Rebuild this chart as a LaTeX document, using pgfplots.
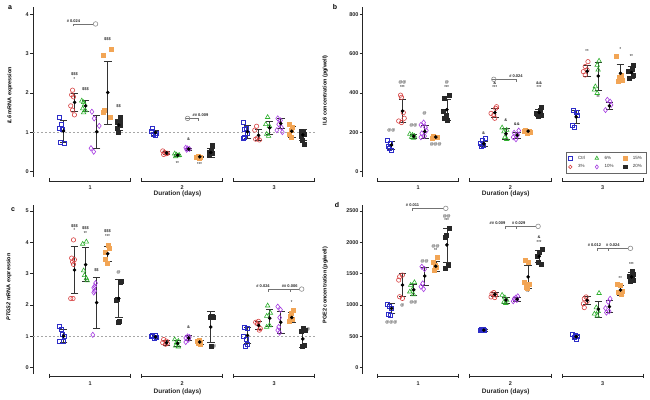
\documentclass[border=0pt]{standalone}
\usepackage{pgfplots}
\pgfplotsset{compat=1.18}
\usepackage{fontspec}
\setmainfont{Liberation Sans}
\definecolor{cCtrl}{RGB}{45,45,200}
\definecolor{cThree}{RGB}{215,65,65}
\definecolor{cSix}{RGB}{45,175,45}
\definecolor{cTen}{RGB}{165,60,225}
\definecolor{cFift}{RGB}{242,165,85}
\definecolor{cTwen}{RGB}{40,40,40}
\pgfplotsset{
  panel/.style={scale only axis, anchor=south west, clip=false, hide x axis,
    axis y line*=left, y axis line style={line width=0.9pt, black!85},
    ytick align=outside, ytick style={line width=0.8pt, black!85}, major tick length=3pt,
    yticklabel style={font=\bfseries\fontsize{5.5}{6}\selectfont, black!85, inner sep=1pt},
    /pgf/number format/assume math mode=true, /pgf/number format/1000 sep={},
    ylabel style={font=\bfseries\fontsize{5.5}{6}\selectfont, anchor=center}},
  sCtrl/.style={only marks, mark=square, mark size=2pt, color=cCtrl, line width=0.6pt},
  sThree/.style={only marks, mark=o, mark size=2.2pt, color=cThree, line width=0.6pt},
  sSix/.style={only marks, mark=triangle, mark size=2.6pt, color=cSix, line width=0.6pt},
  sTen/.style={only marks, mark=diamond, mark size=2.6pt, color=cTen, line width=0.6pt},
  sFift/.style={only marks, mark=square*, mark size=2pt, color=cFift},
  sTwen/.style={only marks, mark=square*, mark size=2pt, color=cTwen},
  meanst/.style={forget plot, only marks, mark=*, mark size=1.6pt, color=black,
    error bars/y dir=both, error bars/y explicit,
    error bars/error bar style={line width=0.6pt, black!80},
    error bars/error mark options={rotate=90, line width=0.6pt, mark size=3.8pt, black!80}},
  circ/.style={forget plot, only marks, mark=o, mark size=2.3pt, color=black!45, line width=0.6pt},
}
\tikzset{
  ann/.style={font=\bfseries\fontsize{4}{4}\selectfont, inner sep=0pt, text=black!85},
  sigl/.style={line width=0.5pt, black!55},
  grp/.style={line width=0.9pt, black!85},
  glab/.style={font=\bfseries\fontsize{5.5}{6}\selectfont, inner sep=0pt, text=black!85},
  dlab/.style={font=\bfseries\fontsize{6.5}{7}\selectfont, inner sep=0pt, text=black!85},
}
\newcommand{\pts}[3]{\addplot[#1] table[row sep=\\, x expr={\thisrow{g}+(#2)+(\thisrow{j})}, y=y]{#3};}
\newcommand{\means}[1]{\addplot[meanst] table[row sep=\\, x expr={\thisrow{g}+(\thisrow{s}-2.5)*0.12+0.012}, y=m, y error=e]{#1};}
\newcommand{\an}[3]{\node[ann] at (axis cs:#1,#2) {#3};}
\newcommand{\groups}[3]{%
  \draw[grp] ([yshift=3pt]axis cs:0.56,#1) -- ([yshift=-1pt]axis cs:0.56,#1) (axis cs:0.56,#1) -- (axis cs:1.44,#1) ([yshift=3pt]axis cs:1.44,#1) -- ([yshift=-1pt]axis cs:1.44,#1);
  \draw[grp] ([yshift=3pt]axis cs:1.56,#1) -- ([yshift=-1pt]axis cs:1.56,#1) (axis cs:1.56,#1) -- (axis cs:2.44,#1) ([yshift=3pt]axis cs:2.44,#1) -- ([yshift=-1pt]axis cs:2.44,#1);
  \draw[grp] ([yshift=3pt]axis cs:2.56,#1) -- ([yshift=-1pt]axis cs:2.56,#1) (axis cs:2.56,#1) -- (axis cs:3.44,#1) ([yshift=3pt]axis cs:3.44,#1) -- ([yshift=-1pt]axis cs:3.44,#1);
  \node[glab] at (axis cs:1,#2) {1};
  \node[glab] at (axis cs:2,#2) {2};
  \node[glab] at (axis cs:3,#2) {3};
  \node[dlab] at (axis cs:1.95,#3) {Duration (days)};}
\newcommand{\sigone}[5]{%
  \addplot[circ] coordinates {(#1,#2)};
  \draw[sigl] ([yshift=-2.5pt]axis cs:#3,#2) -- (axis cs:#3,#2) -- ([xshift=-2.3pt]axis cs:#1,#2);
  \node[ann, anchor=south] at ([yshift=1.2pt]axis cs:#4,#2) {#5};}
\newcommand{\sigtwo}[8]{%
  \sigone{#1}{#2}{#3}{#4}{#5}
  \draw[sigl] ([yshift=-2.5pt]axis cs:#6,#2) -- (axis cs:#6,#2);
  \node[ann, anchor=south] at ([yshift=1.2pt]axis cs:#7,#2) {#8};}
\begin{document}
\begin{tikzpicture}
\useasboundingbox (0pt,0pt) rectangle (650pt,399pt);
\node[font=\bfseries\fontsize{7}{7}\selectfont] at (10pt,391pt) {a};
\node[font=\bfseries\fontsize{7}{7}\selectfont] at (335pt,392pt) {b};
\node[font=\bfseries\fontsize{7}{7}\selectfont] at (13pt,189pt) {c};
\node[font=\bfseries\fontsize{7}{7}\selectfont] at (337pt,194pt) {d};
% ---------------- panel a
\begin{axis}[panel, at={(33pt,221.8pt)}, width=283.4pt, height=170.5pt,
  xmin=0.38, xmax=3.46, ymin=-0.15, ymax=4.2, ytick={0,1,2,3,4},
  ylabel={\textit{IL6} mRNA expression}, ylabel style={at={(rel axis cs:-0.081,0.48)}}]
\addplot[forget plot, gray!70, line width=0.5pt, dash pattern=on 2pt off 2pt] coordinates {(0.38,1) (3.46,1)};
\pts{sCtrl}{-0.30}{g j y\\ 1 -0.03 1.39\\ 1 -0.01 1.20\\ 1 -0.035 1.11\\ 1 0.0 1.08\\ 1 -0.02 0.75\\ 1 0.015 0.71\\ 2 -0.02 1.10\\ 2 -0.03 1.01\\ 2 -0.01 0.95\\ 2 0.01 0.93\\ 2 0.02 0.97\\ 3 -0.03 1.25\\ 3 0.0 1.10\\ 3 -0.02 1.07\\ 3 0.01 0.96\\ 3 -0.02 0.88\\ 3 -0.035 0.85\\}
\pts{sThree}{-0.18}{g j y\\ 1 -0.01 2.07\\ 1 -0.02 1.95\\ 1 0.0 1.90\\ 1 -0.03 1.67\\ 1 -0.01 1.56\\ 1 0.01 1.44\\ 2 -0.03 0.52\\ 2 -0.01 0.48\\ 2 0.01 0.45\\ 2 -0.02 0.43\\ 2 0.02 0.46\\ 3 -0.01 1.15\\ 3 -0.03 1.05\\ 3 0.0 0.85\\ 3 -0.02 0.82\\ 3 0.02 0.80\\}
\pts{sSix}{-0.06}{g j y\\ 1 -0.03 1.80\\ 1 -0.01 1.76\\ 1 0.0 1.70\\ 1 -0.02 1.60\\ 1 0.01 1.55\\ 1 -0.01 1.50\\ 2 -0.02 0.45\\ 2 0.0 0.42\\ 2 0.02 0.40\\ 2 -0.01 0.38\\ 2 0.03 0.41\\ 3 -0.01 1.38\\ 3 -0.03 1.20\\ 3 0.01 1.15\\ 3 -0.02 0.95\\ 3 0.0 0.90\\}
\pts{sTen}{0.06}{g j y\\ 1 -0.04 1.52\\ 1 -0.015 1.35\\ 1 0.04 1.16\\ 1 -0.05 0.59\\ 1 -0.02 0.50\\ 2 -0.02 0.60\\ 2 0.0 0.58\\ 2 0.02 0.57\\ 2 -0.01 0.55\\ 3 -0.02 1.35\\ 3 0.01 1.30\\ 3 -0.01 1.20\\ 3 0.02 1.12\\ 3 -0.03 1.05\\ 3 0.03 1.00\\}
\pts{sFift}{0.18}{g j y\\ 1 0.05 3.11\\ 1 -0.04 2.97\\ 1 -0.03 1.56\\ 1 -0.035 1.50\\ 1 0.04 1.38\\ 2 0.0 0.38\\ 2 -0.02 0.36\\ 2 -0.03 0.35\\ 2 0.01 0.34\\ 2 0.02 0.37\\ 3 -0.02 1.20\\ 3 0.02 1.12\\ 3 0.01 1.05\\ 3 -0.02 0.95\\ 3 0.01 0.88\\}
\pts{sTwen}{0.30}{g j y\\ 1 0.03 1.38\\ 1 0.025 1.30\\ 1 -0.01 1.25\\ 1 0.03 1.18\\ 1 0.0 1.10\\ 1 0.01 0.99\\ 2 0.03 0.66\\ 2 0.02 0.55\\ 2 0.0 0.50\\ 2 0.03 0.45\\ 2 -0.01 0.40\\ 3 -0.01 1.02\\ 3 0.02 1.00\\ 3 0.03 0.95\\ 3 0.0 0.90\\ 3 0.01 0.80\\ 3 0.03 0.70\\}
\means{g s m e\\ 1 0 1.03 0.28\\ 1 1 1.76 0.24\\ 1 2 1.67 0.15\\ 1 3 1.01 0.41\\ 1 4 2.01 0.80\\ 1 5 1.18 0.14\\ 2 0 0.99 0.06\\ 2 1 0.47 0.04\\ 2 2 0.41 0.03\\ 2 3 0.57 0.03\\ 2 4 0.37 0.02\\ 2 5 0.48 0.11\\ 3 0 1.01 0.16\\ 3 1 0.92 0.14\\ 3 2 1.11 0.16\\ 3 3 1.22 0.13\\ 3 4 1.02 0.14\\ 3 5 0.93 0.13\\}
\an{0.83}{2.48}{\$\$\$}\an{0.83}{2.35}{*}\an{0.95}{2.10}{\$\$\$}\an{1.19}{3.37}{\$\$\$}\an{1.31}{1.67}{\$\$}
\an{1.95}{0.20}{**}\an{2.07}{0.82}{\&}\an{2.19}{0.19}{***}
\sigone{1.06}{3.76}{0.82}{0.82}{\# 0.024}
\sigone{2.06}{1.35}{2.18}{2.20}{\#\# 0.009}
\groups{-0.247}{-0.413}{-0.58}
\end{axis}
% ---------------- panel b
\begin{axis}[panel, at={(362.7pt,221.8pt)}, width=282.5pt, height=170.5pt,
  xmin=0.40, xmax=3.46, ymin=-30, ymax=840.8, ytick={0,200,400,600,800},
  ylabel={IL6 concentration (pg/well)}, ylabel style={at={(rel axis cs:-0.133,0.51)}},
  legend columns=3, legend cell align=left,
  legend image post style={scale=0.8},
  legend style={at={(rel axis cs:1.003,0.025)}, anchor=south east, font=\fontsize{4.5}{5}\selectfont,
    draw=black!60, line width=0.4pt, inner xsep=2pt, inner ysep=1.5pt, row sep=0pt, text=black!80,
    /tikz/every odd column/.append style={column sep=4pt},
    /tikz/every even column/.append style={column sep=8pt}}]
\pts{sCtrl}{-0.30}{g j y\\ 1 -0.03 159\\ 1 0.0 143\\ 1 -0.02 129\\ 1 0.01 109\\ 1 -0.01 120\\ 2 0.03 169\\ 2 0.0 157\\ 2 -0.03 143\\ 2 0.01 134\\ 2 -0.01 129\\ 3 -0.02 313\\ 3 0.01 300\\ 3 0.02 288\\ 3 -0.03 237\\ 3 -0.01 225\\}
\addlegendentry{Ctrl}
\pts{sSix}{-0.06}{g j y\\ 1 -0.03 190\\ 1 0.0 185\\ 1 0.02 180\\ 1 -0.01 175\\ 1 0.01 170\\ 2 -0.03 223\\ 2 0.02 211\\ 2 -0.01 203\\ 2 0.0 174\\ 2 0.02 164\\ 3 0.02 564\\ 3 0.0 543\\ 3 0.01 518\\ 3 -0.02 433\\ 3 -0.03 416\\ 3 0.0 399\\}
\addlegendentry{6\%}
\pts{sFift}{0.18}{g j y\\ 1 -0.02 178\\ 1 0.02 176\\ 1 0.0 174\\ 1 0.03 172\\ 1 -0.03 170\\ 2 -0.02 211\\ 2 0.02 203\\ 2 0.0 194\\ 2 0.03 200\\ 2 -0.03 206\\ 3 -0.03 586\\ 3 0.02 492\\ 3 0.0 480\\ 3 0.03 467\\ 3 -0.01 458\\}
\addlegendentry{15\%}
\pts{sThree}{-0.18}{g j y\\ 1 -0.01 389\\ 1 0.0 378\\ 1 0.02 300\\ 1 0.03 271\\ 1 -0.03 257\\ 1 0.0 249\\ 2 0.03 330\\ 2 0.02 322\\ 2 -0.03 296\\ 2 0.0 288\\ 2 0.01 271\\ 3 0.02 560\\ 3 -0.01 535\\ 3 0.01 518\\ 3 -0.03 509\\ 3 -0.01 492\\}
\addlegendentry{3\%}
\pts{sTen}{0.06}{g j y\\ 1 0.0 249\\ 1 -0.03 237\\ 1 0.02 225\\ 1 0.03 208\\ 1 -0.02 194\\ 1 0.01 180\\ 1 -0.03 174\\ 2 0.03 208\\ 2 -0.02 197\\ 2 0.02 186\\ 2 -0.03 174\\ 2 0.0 164\\ 3 -0.01 365\\ 3 0.02 356\\ 3 0.03 339\\ 3 -0.03 313\\}
\addlegendentry{10\%}
\pts{sTwen}{0.30}{g j y\\ 1 0.04 390\\ 1 -0.02 376\\ 1 -0.03 305\\ 1 0.0 288\\ 1 -0.02 271\\ 1 0.02 259\\ 2 0.03 330\\ 2 0.02 313\\ 2 -0.02 296\\ 2 0.0 279\\ 2 0.03 285\\ 3 0.03 540\\ 3 0.02 521\\ 3 -0.02 509\\ 3 0.03 492\\ 3 -0.01 475\\}
\addlegendentry{20\%}
\means{g s m e\\ 1 0 134 21\\ 1 1 308 59\\ 1 2 179 11\\ 1 3 203 33\\ 1 4 175 5\\ 1 5 315 54\\ 2 0 141 11\\ 2 1 300 22\\ 2 2 192 26\\ 2 3 185 15\\ 2 4 205 9\\ 2 5 300 17\\ 3 0 278 34\\ 3 1 511 28\\ 3 2 487 72\\ 3 3 334 17\\ 3 4 501 46\\ 3 5 505 31\\}
\an{0.71}{207}{@@}\an{0.83}{429}{***}\an{0.83}{453}{@@}\an{0.95}{237}{@@}\an{1.07}{296}{@}\an{1.19}{135}{@@@}\an{1.31}{429}{***}\an{1.31}{453}{@}
\an{1.71}{194}{\&}\an{1.83}{428}{***}\an{1.83}{450}{\&}\an{1.95}{262}{\&}\an{2.07}{242}{\&\&}\an{2.31}{428}{***}\an{2.31}{450}{\&\&}
\an{2.83}{612}{**}\an{2.95}{378}{**}\an{3.19}{625}{*}\an{3.31}{586}{**}
\sigone{1.82}{470}{2.06}{2.06}{\# 0.024}
\groups{-49.5}{-82.7}{-116}
\end{axis}
% ---------------- panel c
\begin{axis}[panel, at={(33pt,25pt)}, width=283.4pt, height=169.2pt,
  xmin=0.38, xmax=3.46, ymin=-0.2, ymax=5.2, ytick={0,1,2,3,4,5},
  ylabel={\textit{PTGS2} mRNA expression}, ylabel style={at={(rel axis cs:-0.085,0.514)}}]
\addplot[forget plot, gray!70, line width=0.5pt, dash pattern=on 2pt off 2pt] coordinates {(0.38,1) (3.46,1)};
\pts{sCtrl}{-0.30}{g j y\\ 1 -0.03 1.31\\ 1 -0.01 1.23\\ 1 0.0 1.06\\ 1 0.02 0.99\\ 1 -0.03 0.83\\ 1 0.01 0.85\\ 2 -0.02 1.05\\ 2 0.01 1.02\\ 2 -0.03 1.00\\ 2 0.02 0.97\\ 2 0.0 0.93\\ 3 -0.02 1.30\\ 3 0.01 1.25\\ 3 -0.03 1.00\\ 3 0.0 0.92\\ 3 0.01 0.75\\ 3 -0.01 0.70\\}
\pts{sThree}{-0.18}{g j y\\ 1 0.0 4.08\\ 1 -0.02 3.50\\ 1 0.01 3.45\\ 1 -0.01 3.38\\ 1 0.0 3.30\\ 1 -0.03 2.21\\ 1 -0.005 2.21\\ 2 -0.02 0.90\\ 2 0.01 0.85\\ 2 -0.03 0.80\\ 2 0.02 0.78\\ 2 0.0 0.75\\ 3 0.01 1.48\\ 3 -0.02 1.45\\ 3 0.0 1.40\\ 3 0.03 1.25\\ 3 0.02 1.20\\}
\pts{sSix}{-0.06}{g j y\\ 1 0.02 4.02\\ 1 -0.02 3.95\\ 1 -0.01 3.10\\ 1 0.0 2.95\\ 1 0.02 2.85\\ 1 0.03 2.78\\ 2 -0.02 0.90\\ 2 0.02 0.85\\ 2 0.0 0.80\\ 2 -0.01 0.70\\ 2 0.02 0.67\\ 3 -0.01 1.98\\ 3 0.02 1.75\\ 3 -0.02 1.65\\ 3 0.01 1.35\\ 3 -0.02 1.30\\}
\pts{sTen}{0.06}{g j y\\ 1 0.0 2.70\\ 1 -0.01 2.60\\ 1 -0.02 2.55\\ 1 -0.01 2.45\\ 1 -0.02 2.40\\ 1 -0.03 1.05\\ 2 0.0 1.00\\ 2 0.02 0.98\\ 2 -0.02 0.95\\ 2 0.01 0.90\\ 2 -0.02 0.82\\ 3 -0.02 1.95\\ 3 0.01 1.85\\ 3 0.0 1.60\\ 3 -0.01 1.30\\ 3 -0.02 1.20\\ 3 0.0 1.12\\}
\pts{sFift}{0.18}{g j y\\ 1 0.02 3.92\\ 1 0.03 3.80\\ 1 -0.01 3.70\\ 1 -0.02 3.45\\ 1 0.01 3.35\\ 2 0.01 0.88\\ 2 -0.02 0.85\\ 2 0.02 0.82\\ 2 -0.01 0.80\\ 2 0.0 0.78\\ 2 0.02 0.76\\ 3 0.03 1.85\\ 3 0.01 1.75\\ 3 -0.01 1.65\\ 3 0.02 1.55\\ 3 -0.02 1.50\\}
\pts{sTwen}{0.30}{g j y\\ 1 0.04 2.77\\ 1 0.03 2.72\\ 1 -0.01 2.20\\ 1 -0.02 2.15\\ 1 0.02 1.50\\ 1 0.01 1.45\\ 2 0.02 1.65\\ 2 0.03 1.63\\ 2 0.04 1.62\\ 2 0.01 1.60\\ 2 0.02 0.68\\ 3 0.02 1.25\\ 3 0.04 1.20\\ 3 0.0 1.18\\ 3 0.03 0.72\\ 3 0.01 0.68\\}
\means{g s m e\\ 1 0 1.01 0.21\\ 1 1 3.12 0.76\\ 1 2 3.29 0.54\\ 1 3 2.08 0.81\\ 1 4 3.64 0.24\\ 1 5 2.21 0.61\\ 2 0 0.99 0.06\\ 2 1 0.80 0.07\\ 2 2 0.78 0.10\\ 2 3 0.95 0.07\\ 2 4 0.82 0.06\\ 2 5 1.30 0.50\\ 3 0 1.03 0.25\\ 3 1 1.35 0.12\\ 3 2 1.58 0.27\\ 3 3 1.45 0.35\\ 3 4 1.60 0.16\\ 3 5 0.92 0.28\\}
\an{0.83}{4.53}{\$\$\$}\an{0.83}{4.39}{*}\an{0.95}{4.45}{\$\$\$}\an{0.95}{4.29}{**}\an{1.07}{3.12}{\$\$}\an{1.19}{4.36}{\$\$\$}\an{1.19}{4.21}{***}\an{1.31}{3.03}{@}
\an{2.07}{1.30}{\&}\an{2.35}{0.67}{@}
\an{3.19}{2.08}{*}\an{3.37}{1.21}{@}
\sigtwo{3.30}{2.51}{2.94}{2.88}{\# 0.024}{3.18}{3.17}{\#\# 0.006}
\groups{-0.287}{-0.504}{-0.76}
\end{axis}
% ---------------- panel d
\begin{axis}[panel, at={(362.7pt,25pt)}, width=282.5pt, height=169.2pt,
  xmin=0.40, xmax=3.46, ymin=-100, ymax=2600, ytick={0,500,1000,1500,2000,2500},
  ylabel={PGE2 concentration (pg/well)}, ylabel style={at={(rel axis cs:-0.133,0.526)}}]
\pts{sCtrl}{-0.30}{g j y\\ 1 -0.03 1011\\ 1 -0.01 984\\ 1 0.01 947\\ 1 -0.02 851\\ 1 0.0 830\\ 2 -0.02 620\\ 2 0.01 610\\ 2 -0.03 600\\ 2 0.02 595\\ 2 0.0 590\\ 3 -0.03 540\\ 3 0.0 520\\ 3 0.02 500\\ 3 -0.01 480\\ 3 0.01 460\\}
\pts{sThree}{-0.18}{g j y\\ 1 0.01 1479\\ 1 -0.02 1452\\ 1 -0.03 1399\\ 1 -0.02 1133\\ 1 0.01 1106\\ 2 0.0 1200\\ 2 -0.02 1180\\ 2 0.02 1160\\ 2 -0.03 1130\\ 2 0.01 1120\\ 3 0.0 1130\\ 3 -0.02 1100\\ 3 0.01 1060\\ 3 -0.03 1020\\ 3 -0.02 960\\}
\pts{sSix}{-0.06}{g j y\\ 1 0.02 1362\\ 1 -0.02 1319\\ 1 -0.03 1213\\ 1 0.01 1170\\ 1 0.0 1250\\ 2 -0.03 1160\\ 2 0.0 1120\\ 2 0.02 1080\\ 2 -0.01 1050\\ 2 0.01 1030\\ 3 0.02 1190\\ 3 -0.01 960\\ 3 0.01 900\\ 3 -0.03 860\\ 3 0.0 830\\}
\pts{sTen}{0.06}{g j y\\ 1 -0.02 1612\\ 1 0.01 1574\\ 1 -0.01 1346\\ 1 -0.03 1293\\ 1 0.0 1255\\ 2 0.02 1140\\ 2 0.0 1120\\ 2 -0.02 1100\\ 2 0.01 1080\\ 2 -0.03 1060\\ 3 0.02 1100\\ 3 0.0 1050\\ 3 -0.03 950\\ 3 0.01 900\\ 3 -0.02 880\\}
\pts{sFift}{0.18}{g j y\\ 1 0.03 1771\\ 1 -0.02 1691\\ 1 0.0 1638\\ 1 0.02 1612\\ 1 -0.01 1559\\ 2 -0.02 1718\\ 2 0.01 1681\\ 2 -0.03 1372\\ 2 0.02 1329\\ 2 -0.01 1292\\ 2 0.0 1266\\ 3 -0.02 1340\\ 3 0.01 1310\\ 3 0.03 1220\\ 3 -0.01 1200\\ 3 0.02 1180\\}
\pts{sTwen}{0.30}{g j y\\ 1 0.04 2234\\ 1 0.0 2117\\ 1 -0.01 2080\\ 1 0.03 1638\\ 1 -0.01 1596\\ 2 0.04 1889\\ 2 0.01 1851\\ 2 -0.01 1787\\ 2 0.0 1681\\ 2 0.03 1649\\ 3 0.02 1540\\ 3 0.03 1500\\ 3 -0.01 1460\\ 3 0.02 1430\\ 3 0.03 1400\\ 3 0.0 1380\\}
\means{g s m e\\ 1 0 947 80\\ 1 1 1320 180\\ 1 2 1245 85\\ 1 3 1465 145\\ 1 4 1620 85\\ 1 5 1960 270\\ 2 0 600 15\\ 2 1 1170 35\\ 2 2 1080 45\\ 2 3 1095 35\\ 2 4 1450 185\\ 2 5 1780 95\\ 3 0 495 28\\ 3 1 1075 65\\ 3 2 935 130\\ 3 3 975 95\\ 3 4 1240 80\\ 3 5 1450 70\\}
\an{0.71}{718}{@@@}\an{0.83}{990}{@}\an{0.95}{1040}{@@}\an{1.07}{1702}{@@}\an{1.19}{1931}{@@}\an{1.19}{1878}{**}\an{1.31}{2410}{@@}\an{1.31}{2356}{***}
\an{2.19}{1213}{**}\an{2.31}{2011}{***}\an{2.31}{2080}{\&}
\an{3.19}{1436}{**}\an{3.31}{1654}{***}
\sigone{1.30}{2543}{0.94}{0.94}{\# 0.011}
\sigtwo{2.30}{2256}{1.94}{1.86}{\#\# 0.009}{2.06}{2.09}{\# 0.029}
\sigtwo{3.30}{1905}{2.94}{2.91}{\# 0.012}{3.06}{3.11}{\# 0.024}
\groups{-143.6}{-252}{-381}
\end{axis}
\end{tikzpicture}
\end{document}
